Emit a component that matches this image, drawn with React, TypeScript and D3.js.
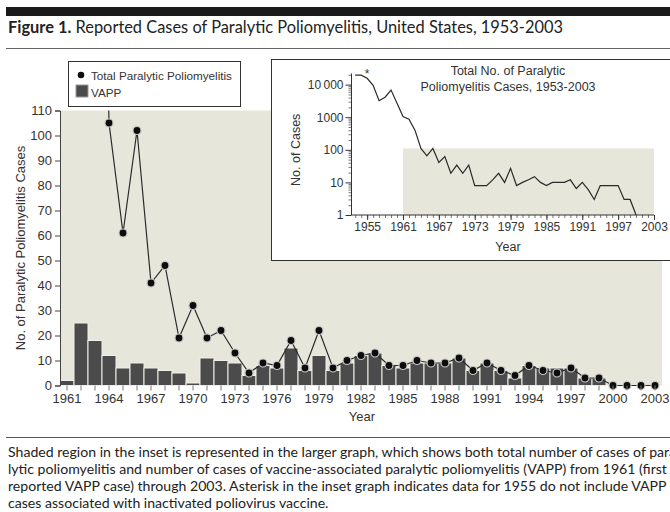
import React, { useRef, useEffect } from 'react';
import * as d3 from 'd3';

// main chart, 1961-2003
const years = [
  1961, 1962, 1963, 1964, 1965, 1966, 1967, 1968, 1969, 1970,
  1971, 1972, 1973, 1974, 1975, 1976, 1977, 1978, 1979, 1980,
  1981, 1982, 1983, 1984, 1985, 1986, 1987, 1988, 1989, 1990,
  1991, 1992, 1993, 1994, 1995, 1996, 1997, 1998, 1999, 2000,
  2001, 2002, 2003,
];
const totalCases = [
  1050, 870, 400, 105, 61, 102, 41, 48, 19, 32,
  19, 22, 13, 5, 9, 8, 18, 7, 22, 7,
  10, 12, 13, 8, 8, 10, 9, 9, 11, 6,
  9, 6, 4, 8, 6, 5, 7, 3, 3, 0,
  0, 0, 0,
];
const vappCases = [
  2, 25, 18, 12, 7, 9, 7, 6, 5, 1,
  11, 10, 9, 4, 8, 7, 15, 6, 12, 6,
  9, 12, 13, 8, 7, 9, 9, 9, 11, 6,
  9, 6, 3, 8, 7, 7, 7, 3, 3, 0,
  0, 0, 0,
];
const yearLabels = [1961, 1964, 1967, 1970, 1973, 1976, 1979, 1982, 1985, 1988, 1991, 1994, 1997, 2000, 2003];
const mainYTicks = [0, 10, 20, 30, 40, 50, 60, 70, 80, 90, 100, 110];

// inset, 1953-2000 (log scale, line stops where it reaches the axis)
const insetYears = [
  1953, 1954, 1955, 1956, 1957, 1958, 1959, 1960, 1961, 1962,
  1963, 1964, 1965, 1966, 1967, 1968, 1969, 1970, 1971, 1972,
  1973, 1974, 1975, 1976, 1977, 1978, 1979, 1980, 1981, 1982,
  1983, 1984, 1985, 1986, 1987, 1988, 1989, 1990, 1991, 1992,
  1993, 1994, 1995, 1996, 1997, 1998, 1999, 2000,
];
const insetTotal = [
  19500, 19500, 15600, 9500, 3200, 4100, 6800, 2700, 1050, 870,
  400, 110, 65, 110, 41, 62, 19, 34, 19, 34,
  8, 8, 8, 12, 19, 10, 27, 8, 10, 12,
  15, 10, 8, 10, 10, 10, 12, 6.5, 10, 6,
  3, 8, 8, 8, 8, 3, 3, 1,
];
const insetYTicks = [1, 10, 100, 1000, 10000];
const insetYLabels = ['1', '10', '100', '1000', '10\u2009000'];
const insetXLabels = [1955, 1961, 1967, 1973, 1979, 1985, 1991, 1997, 2003];

const captionLines = [
  'Shaded region in the inset is represented in the larger graph, which shows both total number of cases of para-',
  'lytic poliomyelitis and number of cases of vaccine-associated paralytic poliomyelitis (VAPP) from 1961 (first',
  'reported VAPP case) through 2003. Asterisk in the inset graph indicates data for 1955 do not include VAPP',
  'cases associated with inactivated poliovirus vaccine.',
];

const SHADE = '#e7e6da';
const BAR = '#4b4b4b';
const CHART_FONT = '"Liberation Sans", Arial, sans-serif';
const TEXT_FONT = 'Lato, "Open Sans", sans-serif';

const App = () => {
  const svgRef = useRef(null);

  useEffect(() => {
    const svg = d3.select(svgRef.current);
    svg.selectAll('*').remove();

    // header
    svg.append('rect').attr('x', 6).attr('y', 7).attr('width', 670).attr('height', 9).attr('fill', '#1a1a1a');
    const title = svg.append('text').attr('x', 8).attr('y', 33).attr('font-family', TEXT_FONT).attr('font-size', 16.4).attr('fill', '#222');
    title.append('tspan').attr('font-weight', 'bold').text('Figure 1.');
    title.append('tspan').text(' Reported Cases of Paralytic Poliomyelitis, United States, 1953-2003');
    svg.append('line').attr('x1', 6).attr('x2', 670).attr('y1', 48.5).attr('y2', 48.5).attr('stroke', '#666');

    // ---- main chart ----
    const x = d3.scaleBand().domain(years).range([60, 662]).padding(0);
    const y = d3.scaleLinear().domain([0, 110]).range([385.5, 110.5]);

    svg.append('rect').attr('x', 60).attr('y', y(110)).attr('width', 602).attr('height', y(0) - y(110)).attr('fill', SHADE);

    svg.append('clipPath').attr('id', 'plotClip')
      .append('rect').attr('x', 56).attr('y', y(110)).attr('width', 612).attr('height', y(0) - y(110) + 6);

    svg.append('g').selectAll('rect')
      .data(years)
      .join('rect')
      .attr('x', (d) => x(d))
      .attr('y', (d, i) => y(vappCases[i]))
      .attr('width', x.bandwidth())
      .attr('height', (d, i) => y(0) - y(vappCases[i]))
      .attr('fill', BAR)
      .attr('stroke', '#efefea')
      .attr('stroke-width', 1);

    const cx = (d) => x(d) + x.bandwidth() / 2;
    const line = d3.line().x((d, i) => cx(years[i])).y((d) => y(d));
    const plot = svg.append('g').attr('clip-path', 'url(#plotClip)');
    plot.append('path').datum(totalCases)
      .attr('d', line)
      .attr('fill', 'none')
      .attr('stroke', '#2a2a2a')
      .attr('stroke-width', 1.2);
    plot.selectAll('circle')
      .data(totalCases)
      .join('circle')
      .attr('cx', (d, i) => cx(years[i]))
      .attr('cy', (d) => y(d))
      .attr('r', 4)
      .attr('fill', '#0d0d0d')
      .attr('stroke', '#c8c8c8')
      .attr('stroke-width', 1.2);

    const yAxis = svg.append('g').attr('transform', 'translate(60,0)')
      .call(d3.axisLeft(y).tickValues(mainYTicks).tickSize(5).tickPadding(3));
    yAxis.selectAll('text').attr('font-size', 13).attr('font-family', CHART_FONT).attr('fill', '#333');
    yAxis.selectAll('line, path').attr('stroke', '#444');

    const xAxis = svg.append('g').attr('transform', `translate(0,${y(0)})`)
      .call(d3.axisBottom(x).tickValues(years).tickSize(5).tickPadding(3)
        .tickFormat((d) => (yearLabels.includes(d) ? String(d) : '')));
    xAxis.select('.domain').remove();
    xAxis.selectAll('line').attr('stroke', '#777');
    xAxis.selectAll('text').attr('font-size', 13).attr('font-family', CHART_FONT).attr('fill', '#333');

    svg.append('text')
      .attr('transform', `translate(25,${(y(0) + y(110)) / 2}) rotate(-90)`)
      .attr('text-anchor', 'middle')
      .attr('font-size', 13).attr('font-family', CHART_FONT).attr('fill', '#333')
      .text('No. of Paralytic Poliomyelitis Cases');
    svg.append('text')
      .attr('x', 362).attr('y', 421)
      .attr('text-anchor', 'middle')
      .attr('font-size', 13).attr('font-family', CHART_FONT).attr('fill', '#333')
      .text('Year');

    // legend
    const lg = svg.append('g');
    lg.append('rect').attr('x', 68.5).attr('y', 61.5).attr('width', 172).attr('height', 45).attr('fill', '#fff').attr('stroke', '#333');
    lg.append('circle').attr('cx', 81).attr('cy', 75).attr('r', 3.3).attr('fill', '#0d0d0d');
    lg.append('text').attr('x', 91).attr('y', 79.5).attr('font-size', 11.7).attr('font-family', CHART_FONT).attr('fill', '#333').text('Total Paralytic Poliomyelitis');
    lg.append('rect').attr('x', 76).attr('y', 85).attr('width', 12).attr('height', 12).attr('fill', BAR).attr('stroke', '#999');
    lg.append('text').attr('x', 91).attr('y', 96.5).attr('font-size', 11.7).attr('font-family', CHART_FONT).attr('fill', '#333').text('VAPP');

    // ---- inset ----
    const ins = svg.append('g');
    ins.append('rect').attr('x', 271.5).attr('y', 59.5).attr('width', 420).attr('height', 201).attr('fill', '#fff').attr('stroke', '#333');

    const xi = d3.scaleLinear().domain([1961, 2003]).range([403, 654]);
    const yi = d3.scaleLog().domain([1, 10000]).range([215, 84.6]);

    ins.append('rect').attr('x', xi(1961)).attr('y', yi(110)).attr('width', xi(2003) - xi(1961)).attr('height', yi(1) - yi(110)).attr('fill', SHADE);

    const iline = d3.line().x((d, i) => xi(insetYears[i])).y((d) => yi(d));
    ins.append('path').datum(insetTotal)
      .attr('d', iline)
      .attr('fill', 'none')
      .attr('stroke', '#2a2a2a')
      .attr('stroke-width', 1.2);

    const minorY = [];
    [1, 10, 100, 1000, 10000].forEach((p) => {
      for (let k = 2; k <= 9; k++) if (p * k <= 20000) minorY.push(p * k);
    });
    const yiMinor = ins.append('g').attr('transform', 'translate(351.5,0)')
      .call(d3.axisLeft(yi).tickValues(minorY).tickSize(3).tickFormat(() => ''));
    yiMinor.select('.domain').remove();
    yiMinor.selectAll('line').attr('stroke', '#555').attr('stroke-width', 0.8);
    const yiAxis = ins.append('g').attr('transform', 'translate(351.5,0)')
      .call(d3.axisLeft(yi).tickValues(insetYTicks).tickSize(6).tickPadding(2)
        .tickFormat((d, i) => insetYLabels[i]));
    yiAxis.select('.domain').remove();
    yiAxis.selectAll('line').attr('stroke', '#333');
    yiAxis.selectAll('text').attr('font-size', 12).attr('font-family', CHART_FONT).attr('fill', '#333');
    ins.append('line').attr('x1', 351.5).attr('x2', 351.5).attr('y1', yi(22000)).attr('y2', yi(1)).attr('stroke', '#333');

    const minorX = d3.range(1953, 2004);
    const xiMinor = ins.append('g').attr('transform', `translate(0,${yi(1)})`)
      .call(d3.axisBottom(xi).tickValues(minorX).tickSize(3).tickFormat(() => ''));
    xiMinor.select('.domain').remove();
    xiMinor.selectAll('line').attr('stroke', '#555').attr('stroke-width', 0.8);
    const xiAxis = ins.append('g').attr('transform', `translate(0,${yi(1)})`)
      .call(d3.axisBottom(xi).tickValues(insetXLabels).tickSize(5).tickPadding(2).tickFormat(d3.format('d')));
    xiAxis.select('.domain').remove();
    xiAxis.selectAll('line').attr('stroke', '#333');
    xiAxis.selectAll('text').attr('font-size', 12).attr('font-family', CHART_FONT).attr('fill', '#333');
    ins.append('line').attr('x1', 351.5).attr('x2', xi(2003)).attr('y1', yi(1)).attr('y2', yi(1)).attr('stroke', '#333');

    ins.append('text').attr('x', 367).attr('y', 78).attr('text-anchor', 'middle')
      .attr('font-size', 12).attr('font-family', CHART_FONT).attr('fill', '#333').text('*');
    ins.append('text')
      .attr('transform', `translate(300,${yi(100)}) rotate(-90)`)
      .attr('text-anchor', 'middle')
      .attr('font-size', 12.5).attr('font-family', CHART_FONT).attr('fill', '#333')
      .text('No. of Cases');
    ins.append('text').attr('x', 508).attr('y', 251).attr('text-anchor', 'middle')
      .attr('font-size', 12.5).attr('font-family', CHART_FONT).attr('fill', '#333').text('Year');
    const it = ins.append('text').attr('text-anchor', 'middle')
      .attr('font-size', 12.5).attr('font-family', CHART_FONT).attr('fill', '#333');
    it.append('tspan').attr('x', 508).attr('y', 75).text('Total No. of Paralytic');
    it.append('tspan').attr('x', 508).attr('y', 91).text('Poliomyelitis Cases, 1953-2003');

    // caption
    svg.append('line').attr('x1', 6).attr('x2', 670).attr('y1', 437.5).attr('y2', 437.5).attr('stroke', '#555');
    svg.append('g').selectAll('text')
      .data(captionLines)
      .join('text')
      .attr('x', 8)
      .attr('y', (d, i) => 457 + i * 17)
      .attr('font-size', 14.1)
      .attr('font-family', TEXT_FONT)
      .attr('fill', '#222')
      .text((d) => d);
  }, []);

  return (
    <svg
      ref={svgRef}
      width={670}
      height={512}
      style={{ position: 'absolute', left: 0, top: 0, background: '#fff' }}
    ></svg>
  );
};

export default App;
